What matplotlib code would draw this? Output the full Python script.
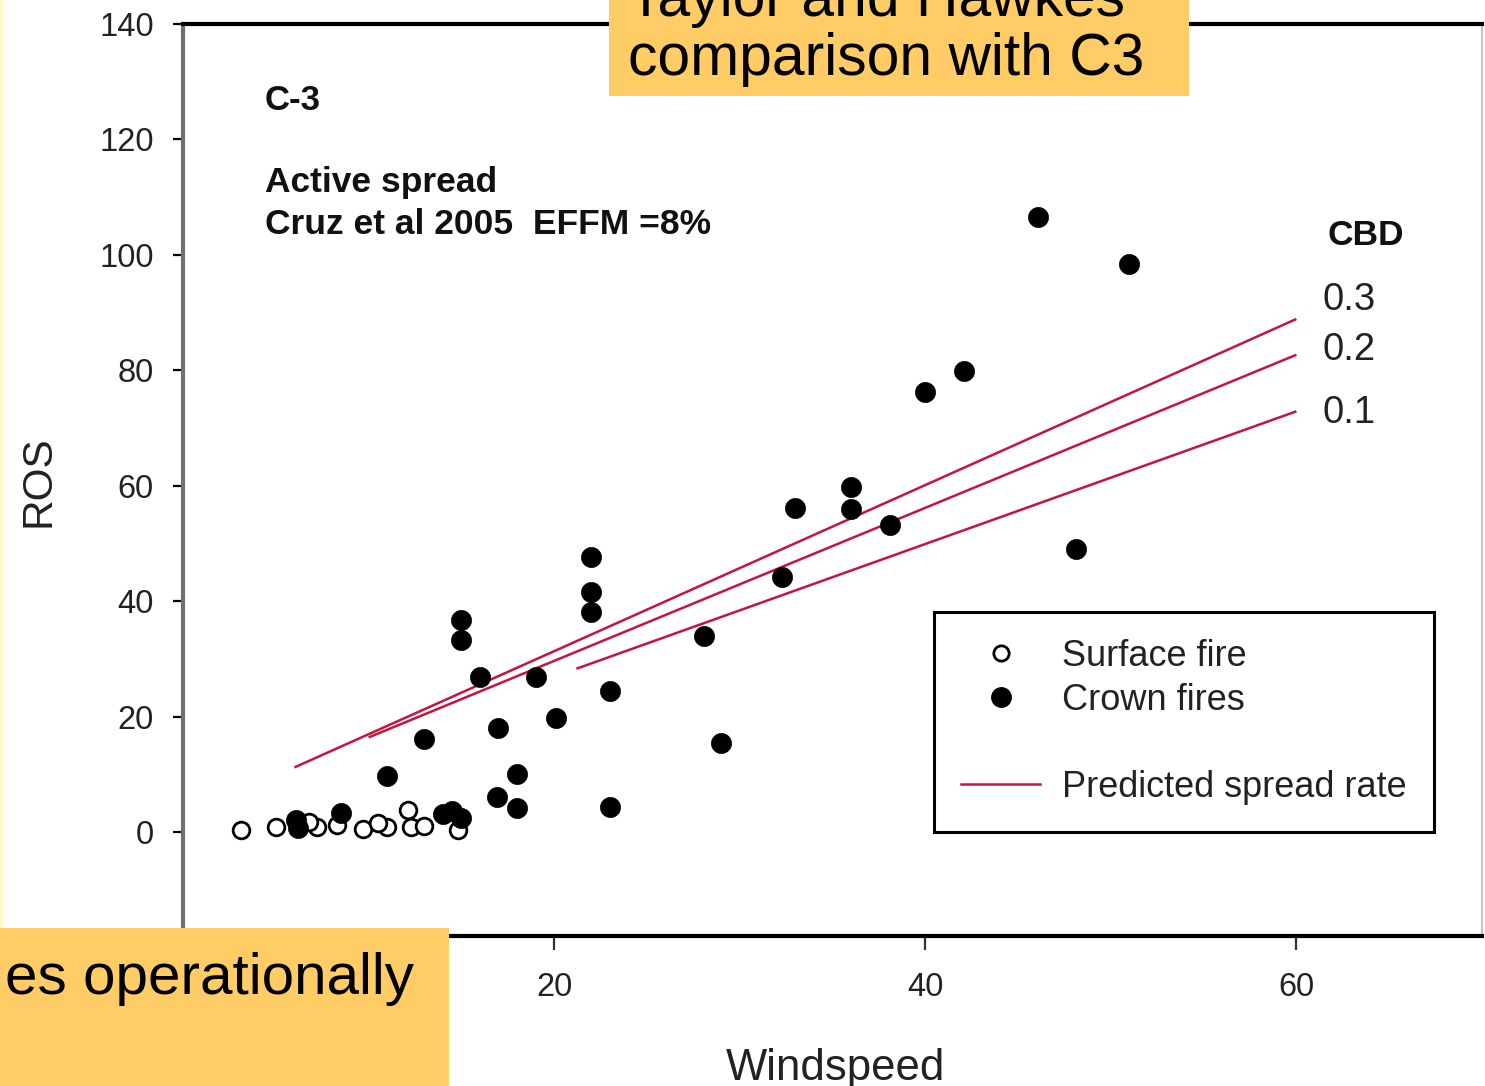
import matplotlib
matplotlib.use("Agg")
import matplotlib.pyplot as plt
from matplotlib.lines import Line2D
from matplotlib.patches import Rectangle

SANS = "Liberation Sans"
TICK_SIZE = 23.5

# ---------------- data ----------------
surface_x = [3.1, 5.0, 7.2, 8.3, 9.7, 11.0, 12.1, 12.3, 13.0, 14.8, 6.8, 10.5]
surface_y = [0.3, 0.9, 0.9, 1.2, 0.5, 0.9, 3.8, 0.9, 1.0, 0.3, 1.8, 1.5]

crown_x = [46.1, 51.0, 42.1, 40.0, 36.0, 36.0, 33.0, 38.1, 48.1, 32.3,
           22.0, 22.0, 22.0, 28.1, 15.0, 15.0, 16.0, 19.0, 23.0, 13.0,
           17.0, 20.1, 29.0, 11.0, 18.0, 16.9, 18.0, 23.0, 6.1, 6.2,
           8.5, 14.0, 15.0, 14.5]
crown_y = [106.6, 98.4, 79.8, 76.3, 59.8, 56.0, 56.1, 53.2, 49.1, 44.2,
           47.7, 41.6, 38.2, 34.0, 36.8, 33.2, 26.9, 26.8, 24.4, 16.2,
           18.0, 19.7, 15.4, 9.8, 10.0, 6.0, 4.1, 4.3, 2.1, 0.7,
           3.3, 3.1, 2.4, 3.6]

cbd_values = ["0.1", "0.2", "0.3"]
pred_x = [[21.2, 60.0], [10.0, 60.0], [6.0, 60.0]]
pred_y = [[28.3, 72.9], [16.4, 82.7], [11.2, 88.9]]
cbd_label_y = [72.6, 83.5, 92.2]

x_ticks = [20, 40, 60]
y_ticks = [0, 20, 40, 60, 80, 100, 120, 140]

# ---------------- figure ----------------
W, H = 1485, 1086
fig = plt.figure(figsize=(W / 100, H / 100), dpi=100)
fig.patch.set_facecolor("white")

ax_l, ax_r = 183 / W, 1482 / W
ax_b, ax_t = 1 - 936 / H, 1 - 24 / H
ax = fig.add_axes([ax_l, ax_b, ax_r - ax_l, ax_t - ax_b])
ax.set_xlim(0, 70)
ax.set_ylim(-18, 140)

red = "#C8143C"
for xs, ys in zip(pred_x, pred_y):
    ax.plot(xs, ys, color=red, lw=1.8, solid_capstyle="butt", zorder=2)

ax.plot(surface_x, surface_y, ls="none", marker="o", ms=12,
        mfc="white", mec="black", mew=2.0, zorder=3)
ax.plot(crown_x, crown_y, ls="none", marker="o", ms=14.5,
        mfc="black", mec="black", mew=0.5, zorder=4)

for lab, ly in zip(cbd_values, cbd_label_y):
    ax.text(61.4, ly, lab, fontsize=27.5, family=SANS, color="#222222",
            ha="left", va="center")
ax.text(61.7, 103.3, "CBD", fontsize=25.5, family=SANS, fontweight="bold",
        color="#111111", ha="left", va="center")

ax.text(4.4, 126.8, "C-3", fontsize=25, family=SANS, fontweight="bold",
        color="#111111", ha="left", va="center")
ax.text(4.4, 112.5, "Active spread", fontsize=25.5, family=SANS,
        fontweight="bold", color="#111111", ha="left", va="center")
ax.text(4.4, 105.2, "Cruz et al 2005  EFFM =8%", fontsize=25.5, family=SANS,
        fontweight="bold", color="#111111", ha="left", va="center")

# spines
for s in ["top", "bottom"]:
    ax.spines[s].set_color("black")
    ax.spines[s].set_linewidth(3)
ax.spines["left"].set_color("#707070")
ax.spines["left"].set_linewidth(3)
ax.spines["right"].set_color("#c4c4c4")
ax.spines["right"].set_linewidth(1.5)

ax.set_xticks(x_ticks)
ax.set_xticklabels([str(v) for v in x_ticks])
ax.set_yticks(y_ticks)
ax.set_yticklabels([str(v) for v in y_ticks])
ax.tick_params(axis="y", direction="out", length=7, width=1.6,
               color="black", pad=14, labelsize=TICK_SIZE,
               labelcolor="#222222")
ax.tick_params(axis="x", direction="out", length=10, width=1.6,
               color="#333333", pad=16, labelsize=TICK_SIZE,
               labelcolor="#222222")
for t in ax.get_xticklabels() + ax.get_yticklabels():
    t.set_family(SANS)

ax.set_ylabel("ROS", fontsize=30.5, family=SANS, color="#222222")
ax.yaxis.set_label_coords(-0.1116, 0.499)
ax.set_xlabel("Windspeed", fontsize=31.5, family=SANS, color="#222222")
ax.xaxis.set_label_coords(0.502, -0.145)
ax.xaxis.label.set_va("center")
ax.yaxis.label.set_va("center")

# legend
handles = [
    Line2D([], [], ls="none", marker="o", ms=11, mfc="white", mec="black", mew=2),
    Line2D([], [], ls="none", marker="o", ms=14, mfc="black", mec="black"),
    Line2D([], [], ls="none", marker=None),
    Line2D([], [], color=red, lw=1.8),
]
labels = ["Surface fire", "Crown fires", "", "Predicted spread rate"]
leg = ax.legend(handles, labels, loc="lower left",
                bbox_to_anchor=(0.578, 0.114),
                prop={"family": SANS, "size": 26},
                frameon=True, fancybox=False, shadow=False,
                borderpad=0.75, labelspacing=0.24, handlelength=2.2,
                handletextpad=0.6, borderaxespad=0, framealpha=1)
leg.get_frame().set_edgecolor("black")
leg.get_frame().set_linewidth(2.2)
for t in leg.get_texts():
    t.set_color("#222222")

# overlay slide boxes
orange = "#FFCC66"
fig.patches.append(Rectangle((609 / W, 1 - 96 / H), (1189 - 609) / W, 96 / H,
                             transform=fig.transFigure, facecolor=orange,
                             edgecolor="none", zorder=10))
fig.text(628 / W, 1 - 75 / H, "Taylor and Hawkes\ncomparison with C3",
         fontsize=42.3, family=SANS, color="black", ha="left", va="baseline",
         linespacing=1.1, zorder=11)
fig.patches.append(Rectangle((0, 0), 449 / W, (1086 - 928) / H,
                             transform=fig.transFigure, facecolor=orange,
                             edgecolor="none", zorder=10))
fig.text(5 / W, 1 - 994 / H, "es operationally", fontsize=42, family=SANS,
         color="black", ha="left", va="baseline", zorder=11)
fig.patches.append(Rectangle((0, 1 - 928 / H), 2.5 / W, 928 / H,
                             transform=fig.transFigure, facecolor="#FFF8C8",
                             edgecolor="none", zorder=10))

fig.savefig("out.png", dpi=100)
